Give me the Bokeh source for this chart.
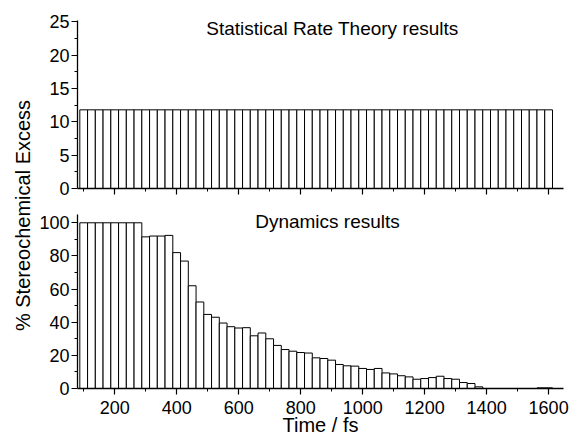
from math import pi
from bokeh.plotting import figure
from bokeh.models import Range1d, FixedTicker, Label
from bokeh.layouts import row, column
from bokeh.embed import file_html
from bokeh.resources import INLINE

# ---- data ----
time_fs = [100, 125, 150, 175, 200, 225, 250, 275, 300, 325, 350, 375,
           400, 425, 450, 475, 500, 525, 550, 575, 600, 625, 650, 675,
           700, 725, 750, 775, 800, 825, 850, 875, 900, 925, 950, 975,
           1000, 1025, 1050, 1075, 1100, 1125, 1150, 1175, 1200, 1225,
           1250, 1275, 1300, 1325, 1350, 1375, 1400, 1425, 1450, 1475,
           1500, 1525, 1550, 1575, 1600]

srt_excess = [11.8, 11.8, 11.8, 11.8, 11.8, 11.8, 11.8, 11.8, 11.8, 11.8,
              11.8, 11.8, 11.8, 11.8, 11.8, 11.8, 11.8, 11.8, 11.8, 11.8,
              11.8, 11.8, 11.8, 11.8, 11.8, 11.8, 11.8, 11.8, 11.8, 11.8,
              11.8, 11.8, 11.8, 11.8, 11.8, 11.8, 11.8, 11.8, 11.8, 11.8,
              11.8, 11.8, 11.8, 11.8, 11.8, 11.8, 11.8, 11.8, 11.8, 11.8,
              11.8, 11.8, 11.8, 11.8, 11.8, 11.8, 11.8, 11.8, 11.8, 11.8,
              11.8]

dyn_excess = [100, 100, 100, 100, 100, 100, 100, 100,
              91.5, 92.0, 92.0, 92.4,
              82.0, 76.9, 62.0, 52.2, 44.7, 43.0, 39.5, 37.3, 36.5, 36.7,
              31.8, 33.5, 30.0, 26.0, 23.5, 22.5, 21.7, 21.4, 18.5, 18.1,
              17.1, 14.5, 13.7, 13.5, 12.1, 11.5, 12.1, 9.4, 8.8, 7.7,
              7.0, 5.6, 6.0, 6.6, 7.4, 6.0, 5.6, 3.6, 3.0, 1.0,
              0, 0, 0, 0, 0, 0, 0, 0.4, 0.4]

x_major_ticks = [200, 400, 600, 800, 1000, 1200, 1400, 1600]
x_minor_ticks = [100, 300, 500, 700, 900, 1100, 1300, 1500]
top_y_major = [0, 5, 10, 15, 20, 25]
top_y_minor = [2.5, 7.5, 12.5, 17.5, 22.5]
bot_y_major = [0, 20, 40, 60, 80, 100]
bot_y_minor = [10, 30, 50, 70, 90]

title_top = "Statistical Rate Theory results"
title_bottom = "Dynamics results"
x_title = "Time / fs"
y_title = "% Stereochemical Excess"

FONT = "Liberation Sans"
BIN = 25

xr = Range1d(80, 1648)


def style(p, show_x_labels):
    p.xgrid.visible = False
    p.ygrid.visible = False
    for ax in (p.xaxis[0], p.yaxis[0]):
        ax.axis_line_color = "black"
        ax.axis_line_width = 1.3
        ax.major_tick_line_color = "black"
        ax.minor_tick_line_color = "black"
        ax.major_tick_line_width = 1.2
        ax.minor_tick_line_width = 1.0
        ax.major_tick_in = 0
        ax.major_tick_out = 6
        ax.minor_tick_in = 0
        ax.minor_tick_out = 3
        ax.major_label_text_font = FONT
        ax.major_label_text_font_size = "18px"
        ax.major_label_text_color = "black"
    p.yaxis[0].major_label_standoff = 2
    if show_x_labels:
        p.xaxis[0].major_label_standoff = 6
    else:
        p.xaxis[0].major_label_text_color = None
        p.xaxis[0].major_label_standoff = 0
    p.xaxis[0].ticker = FixedTicker(ticks=x_major_ticks, minor_ticks=x_minor_ticks)


p1 = figure(width=536, height=198, x_range=xr, y_range=Range1d(0, 25.2),
            output_backend="svg", toolbar_location=None,
            min_border_left=41, min_border_right=9, min_border_top=20,
            min_border_bottom=10, outline_line_color=None,
            background_fill_color="white", border_fill_color="white")
p1.vbar(x=time_fs, width=BIN, top=srt_excess, bottom=0,
        fill_color="white", line_color="black", line_width=1)
style(p1, False)
p1.yaxis[0].ticker = FixedTicker(ticks=top_y_major, minor_ticks=top_y_minor)
p1.add_layout(Label(x=255, y=160, x_units="screen", y_units="screen",
                    text=title_top, text_align="center", text_baseline="alphabetic",
                    text_font=FONT, text_font_size="19px", text_color="black"))

p2 = figure(width=536, height=240, x_range=xr, y_range=Range1d(0, 105),
            output_backend="svg", toolbar_location=None,
            min_border_left=41, min_border_right=9, min_border_top=16,
            min_border_bottom=50, outline_line_color=None,
            background_fill_color="white", border_fill_color="white")
p2.vbar(x=time_fs, width=BIN, top=dyn_excess, bottom=0,
        fill_color="white", line_color="black", line_width=1)
style(p2, True)
p2.yaxis[0].ticker = FixedTicker(ticks=bot_y_major, minor_ticks=bot_y_minor)
p2.xaxis[0].axis_label = x_title
p2.xaxis[0].axis_label_text_font = FONT
p2.xaxis[0].axis_label_text_font_size = "20px"
p2.xaxis[0].axis_label_text_font_style = "normal"
p2.xaxis[0].axis_label_text_color = "black"
p2.xaxis[0].axis_label_standoff = -3
p2.add_layout(Label(x=250, y=167, x_units="screen", y_units="screen",
                    text=title_bottom, text_align="center", text_baseline="alphabetic",
                    text_font=FONT, text_font_size="19px", text_color="black"))

pl = figure(width=36, height=438, x_range=Range1d(0, 1), y_range=Range1d(0, 1),
            output_backend="svg", toolbar_location=None,
            x_axis_location=None, y_axis_location=None,
            min_border=0, outline_line_color=None,
            background_fill_color="white", border_fill_color="white")
pl.xgrid.visible = False
pl.ygrid.visible = False
pl.add_layout(Label(x=22, y=223, x_units="screen", y_units="screen",
                    text=y_title, angle=pi / 2, text_align="center",
                    text_baseline="middle", text_font=FONT,
                    text_font_size="20px", text_color="black"))

layout = row(pl, column(p1, p2))
open("out.html", "w").write(file_html(layout, INLINE))
